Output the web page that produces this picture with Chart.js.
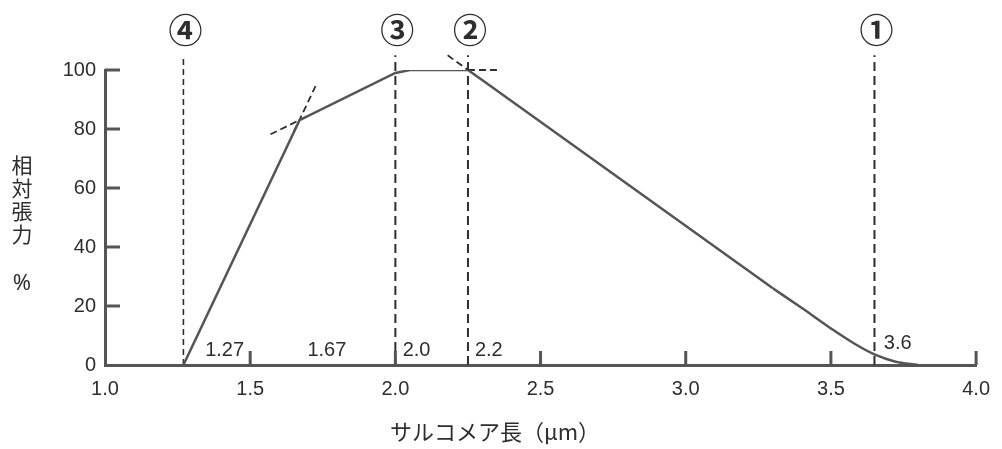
<!DOCTYPE html>
<html>
<head>
<meta charset="utf-8">
<script src="https://cdn.jsdelivr.net/npm/chart.js@4/dist/chart.umd.min.js"></script>
<style>
  body { margin: 0; background: #fff; overflow: hidden; }
  canvas { display: block; }
</style>
</head>
<body>
<canvas id="c" width="1002" height="449"></canvas>
<script>
// length-tension curve (sarcomere length in um, relative tension in %)
const curveX = [1.27, 1.67, 2.0, 2.05, 2.25, 2.3, 3.3]
const curveY = [0, 83, 99, 100, 100, 96.5, 26]
// smooth tail of the descending limb
const tailX = [3.3, 3.4, 3.5, 3.58, 3.65, 3.72, 3.8]
const tailY = [26, 19.3, 12.4, 7.3, 3.6, 1.2, 0]

// vertical marker lines and their circled numbers
const markerX = [3.65, 2.25, 2.0, 1.27]
const markerNames = ['①', '②', '③', '④']
const markerTop = 105

// dashed tangent extensions at the two corners
const tangents = [
  [[1.57, 78.2], [1.70, 84.5]],
  [[1.65, 79], [1.725, 94.5]],
  [[2.18, 105], [2.25, 100]],
  [[2.25, 100], [2.36, 100]]
]

// small value labels beside the markers
const noteText = ['1.27', '1.67', '2.0', '2.2', '3.6']
const noteX = [1.345, 1.697, 2.025, 2.274, 3.682]
const noteY = [3, 3, 3, 3, 5.4]

const xTicks = [1.5, 2.0, 2.5, 3.0, 3.5, 4.0]
const yTicks = [20, 40, 60, 80, 100]

const yTitle = ['相', '対', '張', '力']
const xTitle = 'サルコメア長（μm）'

const ink = '#2e2e2e'
const axisColor = '#555'
const numFont = '"Liberation Sans", Arial, sans-serif'

function pts(xs, ys) {
  return xs.map((x, i) => ({ x: x, y: ys[i] }))
}

let datasets = []

datasets.push({
  data: pts(curveX, curveY),
  borderColor: '#555',
  borderWidth: 2.5,
  pointRadius: 0,
  tension: 0,
  order: 0
})

datasets.push({
  data: pts(tailX, tailY),
  borderColor: '#555',
  borderWidth: 2.5,
  pointRadius: 0,
  cubicInterpolationMode: 'monotone',
  order: 0
})

markerX.forEach((mx, i) => {
  datasets.push({
    data: [{ x: mx, y: 0 }, { x: mx, y: markerTop }],
    borderColor: ink,
    borderWidth: i == 3 ? 1.6 : 2,
    borderDash: i == 3 ? [6, 4] : [9, 5],
    pointRadius: 0,
    clip: false,
    order: 1
  })
})

tangents.forEach(t => {
  datasets.push({
    data: t.map(p => ({ x: p[0], y: p[1] })),
    borderColor: ink,
    borderWidth: 1.8,
    borderDash: [7, 4],
    pointRadius: 0,
    clip: false,
    order: 1
  })
})

const extras = {
  id: 'extras',
  afterDraw(chart) {
    const ctx = chart.ctx
    const xs = chart.scales.x
    const ys = chart.scales.y
    const area = chart.chartArea
    ctx.save()

    // inner tick marks
    ctx.strokeStyle = axisColor
    ctx.lineWidth = 3
    yTicks.forEach(v => {
      const py = ys.getPixelForValue(v)
      ctx.beginPath()
      ctx.moveTo(area.left, py)
      ctx.lineTo(area.left + 15, py)
      ctx.stroke()
    })
    xTicks.forEach(v => {
      const px = xs.getPixelForValue(v)
      ctx.beginPath()
      ctx.moveTo(px, area.bottom)
      ctx.lineTo(px, area.bottom - 14)
      ctx.stroke()
    })

    // circled marker numbers
    ctx.fillStyle = ink
    ctx.textAlign = 'center'
    ctx.textBaseline = 'middle'
    ctx.font = 'bold 34px "Noto Sans CJK JP", sans-serif'
    markerX.forEach((mx, i) => {
      ctx.fillText(markerNames[i], xs.getPixelForValue(mx) + 2, area.top - 40)
    })

    // value notes
    ctx.font = '20px ' + numFont
    ctx.textAlign = 'left'
    ctx.textBaseline = 'alphabetic'
    noteText.forEach((t, i) => {
      ctx.fillText(t, xs.getPixelForValue(noteX[i]), ys.getPixelForValue(noteY[i]))
    })

    // stacked y title
    ctx.textAlign = 'center'
    ctx.textBaseline = 'middle'
    ctx.font = '21px "Noto Sans CJK JP", sans-serif'
    yTitle.forEach((ch, i) => {
      ctx.fillText(ch, 22, 165 + i * 23)
    })
    ctx.font = '22px "Noto Sans", sans-serif'
    ctx.fillText('%', 22, 284)

    // x title, sits left of the axis centre in the original
    ctx.font = '22px "Noto Sans CJK JP", sans-serif'
    ctx.fillText(xTitle, 495, 432)

    ctx.restore()
  }
}

new Chart(document.getElementById('c'), {
  type: 'line',
  data: { datasets: datasets },
  plugins: [extras],
  options: {
    responsive: false,
    animation: false,
    devicePixelRatio: 1,
    layout: { autoPadding: false, padding: { top: 70, right: 19, bottom: 0, left: 0 } },
    plugins: {
      legend: { display: false },
      tooltip: { enabled: false }
    },
    scales: {
      x: {
        type: 'linear',
        min: 1,
        max: 4,
        afterFit: s => { s.height = 84 },
        grid: { display: true, drawOnChartArea: false, drawTicks: false },
        border: { display: true, color: axisColor, width: 3 },
        ticks: {
          stepSize: 0.5,
          padding: 12,
          color: ink,
          font: { family: numFont, size: 20 },
          callback: v => v.toFixed(1)
        }
      },
      y: {
        min: 0,
        max: 100,
        afterFit: s => { s.width = 105 },
        grid: { display: true, drawOnChartArea: false, drawTicks: false },
        border: { display: true, color: axisColor, width: 3 },
        ticks: {
          stepSize: 20,
          padding: 9,
          color: ink,
          font: { family: numFont, size: 20 }
        }
      }
    }
  }
})
</script>
</body>
</html>
